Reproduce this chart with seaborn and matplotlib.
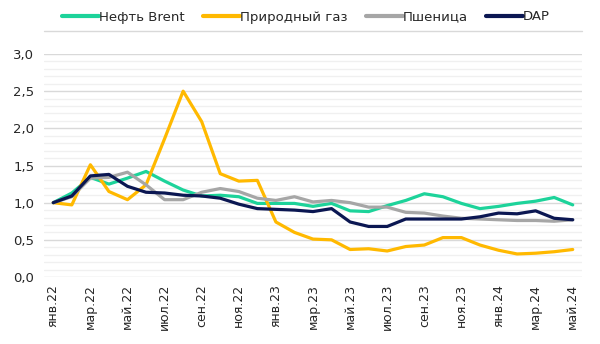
import numpy as np
import pandas as pd
import seaborn as sns
import matplotlib
matplotlib.use("Agg")
import matplotlib.pyplot as plt
from matplotlib.ticker import MultipleLocator, FuncFormatter
from matplotlib.lines import Line2D

months = ["янв", "фев", "мар", "апр", "май", "июн", "июл", "авг", "сен", "окт", "ноя", "дек"]
periods = [f"{months[m]}.{y}" for y in (22, 23, 24) for m in range(12)][:29]

brent = [1.00, 1.13, 1.34, 1.25, 1.33, 1.42, 1.29, 1.17, 1.09, 1.10, 1.08, 0.99,
         0.99, 0.99, 0.95, 0.99, 0.89, 0.88, 0.96, 1.03, 1.12, 1.08, 0.99, 0.92,
         0.95, 0.99, 1.02, 1.07, 0.97]
gas = [1.00, 0.97, 1.51, 1.15, 1.04, 1.24, 1.86, 2.50, 2.09, 1.39, 1.29, 1.30,
       0.74, 0.60, 0.51, 0.50, 0.37, 0.38, 0.35, 0.41, 0.43, 0.53, 0.53, 0.43,
       0.36, 0.31, 0.32, 0.34, 0.37]
wheat = [1.00, 1.08, 1.33, 1.34, 1.41, 1.24, 1.04, 1.04, 1.14, 1.19, 1.15, 1.06,
         1.03, 1.08, 1.01, 1.03, 1.00, 0.94, 0.94, 0.87, 0.86, 0.82, 0.79, 0.78,
         0.77, 0.76, 0.76, 0.75, 0.77]
dap = [1.00, 1.09, 1.36, 1.38, 1.22, 1.14, 1.13, 1.10, 1.09, 1.06, 0.98, 0.92,
       0.91, 0.90, 0.88, 0.92, 0.74, 0.68, 0.68, 0.78, 0.78, 0.78, 0.78, 0.81,
       0.86, 0.85, 0.89, 0.79, 0.77]

series_names = ["Нефть Brent", "Природный газ", "Пшеница", "DAP"]
series_colors = ["#1DD39A", "#FFB900", "#A6A6A6", "#0B1752"]

df = pd.concat([
    pd.DataFrame({"idx": np.arange(len(periods)), "value": vals, "series": name})
    for name, vals in zip(series_names, [brent, gas, wheat, dap])
], ignore_index=True)

sns.set_style("white")
plt.rcParams["font.family"] = ["DejaVu Sans"]

fig = plt.figure(figsize=(6.0, 3.44), dpi=100)
ax = fig.add_axes([44/600, 1-277/344, (582-44)/600, (277-54)/344])

sns.lineplot(data=df, x="idx", y="value", hue="series", hue_order=series_names,
             palette=series_colors, linewidth=2.3, ax=ax, legend=False, zorder=3)

ax.set_xlim(-0.5, len(periods) - 0.5)
ax.set_ylim(0, 3.0)
ax.yaxis.set_major_locator(MultipleLocator(0.5))
ax.yaxis.set_minor_locator(MultipleLocator(0.1))
ax.yaxis.set_major_formatter(FuncFormatter(lambda v, p: f"{v:.1f}".replace(".", ",")))
ax.grid(which="major", axis="y", color="#d9d9d9", linewidth=1.0, zorder=0)
ax.grid(which="minor", axis="y", color="#f0f0f0", linewidth=1.0, zorder=0)
ax.grid(which="major", axis="x", visible=False)
ax.set_axisbelow(True)

ticks = list(range(0, len(periods), 2))
ax.set_xticks(ticks)
ax.set_xticklabels([periods[i] for i in ticks], rotation=90, fontsize=9, color="#262626")
ax.tick_params(axis="y", labelsize=9.5, labelcolor="#262626", length=0, pad=7)
ax.tick_params(axis="x", length=0, pad=5)
ax.tick_params(which="minor", length=0)
ax.set_xlabel("")
ax.set_ylabel("")
for s in ax.spines.values():
    s.set_visible(False)

handles = [Line2D([0], [0], color=c, linewidth=3) for c in series_colors]
fig.legend(handles, series_names, loc="center", bbox_to_anchor=(306/600, 1-17/344),
           ncol=4, frameon=False, fontsize=9.5, handlelength=2.8, handletextpad=0.0,
           columnspacing=1.4, labelcolor="#262626")

fig.add_artist(Line2D([44/600, 582/600], [1-31/344, 1-31/344], color="#d9d9d9",
                      linewidth=1.0, transform=fig.transFigure))

fig.savefig("out.png", dpi=100)
